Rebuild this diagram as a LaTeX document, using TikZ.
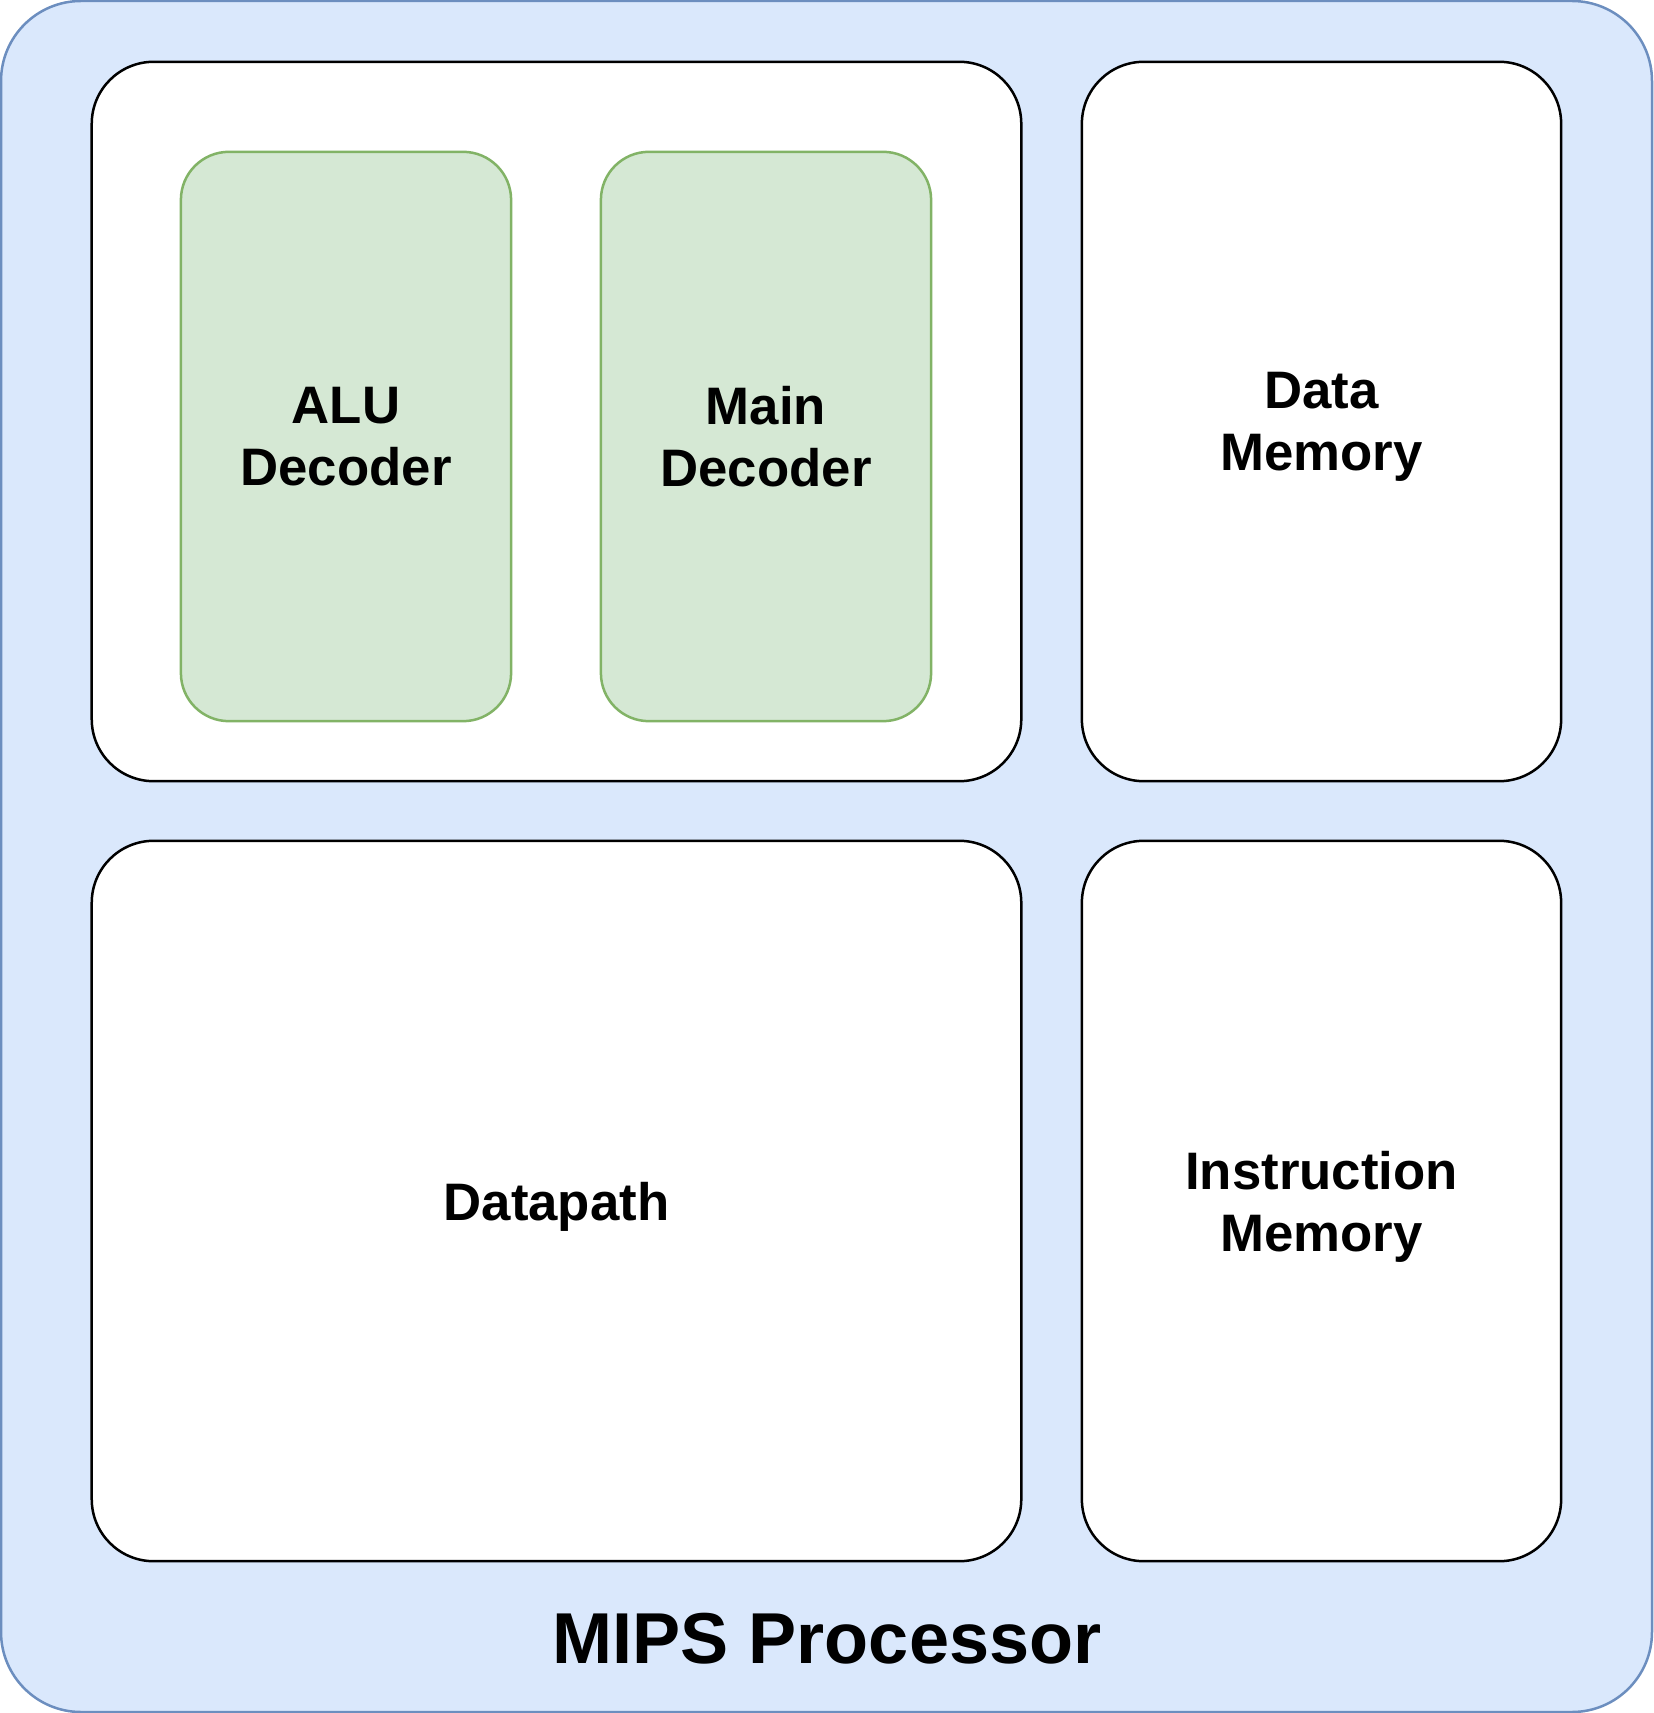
\documentclass[tikz,border=0pt]{standalone}
\usepackage{fontspec}
\setmainfont{Liberation Sans}
\usepackage{tikz}

\begin{document}
\begin{tikzpicture}[x=0.01cm, y=-0.01cm,
		blockbox/.style={draw=black, line width=0.025cm, fill=white, rounded corners=0.62cm, inner sep=0pt, outer sep=0pt, text depth=0pt, align=center, font=\fontsize{15}{17.6}\selectfont\bfseries},
		decbox/.style={draw=deccol, line width=0.025cm, fill=decfill, rounded corners=0.48cm, inner sep=0pt, outer sep=0pt, align=center, font=\fontsize{15}{17.6}\selectfont\bfseries}]
		
		\definecolor{cpufill}{HTML}{DAE8FC}
		\definecolor{cpucol}{HTML}{6C8EBF}
		\definecolor{decfill}{HTML}{D5E8D4}
		\definecolor{deccol}{HTML}{82B366}
		
		\useasboundingbox (0,0) rectangle (1653,1713);
		
		% Processor frame
		\node[draw=cpucol, line width=0.025cm, fill=cpufill, rounded corners=0.8cm, inner sep=0pt,
		minimum width=16.50cm, minimum height=17.10cm] (cpu) at (826.5,856.5) {};
		
		% Control unit and memories
		\node[blockbox, minimum width=9.29cm, minimum height=7.19cm] (ctrl) at (556.5,421.5) {};
		\node[blockbox, minimum width=4.79cm, minimum height=7.19cm] (dmem) at (1321.5,421.5) {Data\\Memory};
		\node[blockbox, minimum width=9.29cm, minimum height=7.20cm] (dp) at (556.5,1201) {Datapath};
		\node[blockbox, minimum width=4.79cm, minimum height=7.20cm] (imem) at (1321.5,1201) {Instruction\\Memory};
		
		% Decoders
		\node[decbox, minimum width=3.30cm, minimum height=5.69cm] (aludec) at (346,436.5) {ALU\\Decoder};
		\node[decbox, minimum width=3.30cm, minimum height=5.69cm] (maindec) at (766,436.5) {Main\\Decoder};
		
		% Title
		\node[anchor=base, inner sep=0pt, font=\fontsize{20.5}{24}\selectfont\bfseries] (title) at (827,1663) {MIPS Processor};
		
	\end{tikzpicture}
\end{document}
